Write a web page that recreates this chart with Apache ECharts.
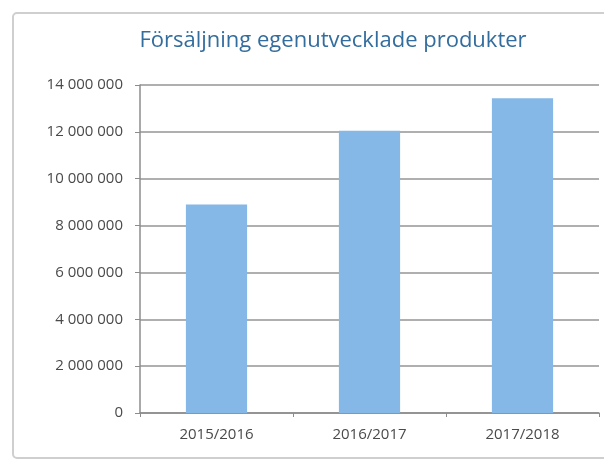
<!DOCTYPE html>
<html><head><meta charset="utf-8">
<script src="https://cdn.jsdelivr.net/npm/echarts@6/dist/echarts.min.js"></script>
<style>html,body{margin:0;padding:0;background:#fff}#c{width:604px;height:462px}</style>
</head><body><div id="c"></div>
<script>
const titleText = "Försäljning egenutvecklade produkter";
const categories = ["2015/2016", "2016/2017", "2017/2018"];
const salesValues = [8900000, 12050000, 13430000];
const yTicks = [0, 2000000, 4000000, 6000000, 8000000, 10000000, 12000000, 14000000];

function fmt(v){ return String(v).replace(/\B(?=(\d{3})+(?!\d))/g, ' '); }

const chart = echarts.init(document.getElementById('c'), null, {renderer:'canvas'});
chart.setOption({
  animation: false,
  backgroundColor: '#fff',
  graphic: [{
    type: 'rect', z: 0,
    shape: {x: 13, y: 13, width: 640, height: 445, r: 4},
    style: {fill: '#fff', stroke: '#cfcfcf', lineWidth: 2}
  }],
  title: {
    text: titleText, left: 328, top: 25, textAlign: 'center',
    textStyle: {fontFamily: 'Open Sans', fontSize: 22, fontWeight: 'normal', color: '#336d9e'}
  },
  grid: {left: 140, right: 5, top: 85, bottom: 49, containLabel: false},
  xAxis: {
    type: 'category', data: categories,
    axisLine: {lineStyle: {color: '#8c8c8c', width: 1.5}},
    axisTick: {show: true, length: 4, lineStyle: {color: '#8c8c8c'}},
    axisLabel: {color: '#4a4a4a', fontSize: 15, fontFamily: 'Open Sans', margin: 14}
  },
  yAxis: {
    type: 'value', min: 0, max: yTicks[yTicks.length-1], interval: yTicks[1]-yTicks[0],
    axisLine: {show: true, lineStyle: {color: '#8c8c8c', width: 1.5}},
    axisTick: {show: true, length: 5, lineStyle: {color: '#8c8c8c'}},
    axisLabel: {color: '#4a4a4a', fontSize: 15, fontFamily: 'Open Sans', margin: 17, formatter: fmt},
    splitLine: {show: true, lineStyle: {color: '#949494', width: 1.5}}
  },
  series: [{
    type: 'bar', data: salesValues, barCategoryGap: '60%',
    itemStyle: {color: '#85b8e6'}
  }]
});
</script></body></html>
